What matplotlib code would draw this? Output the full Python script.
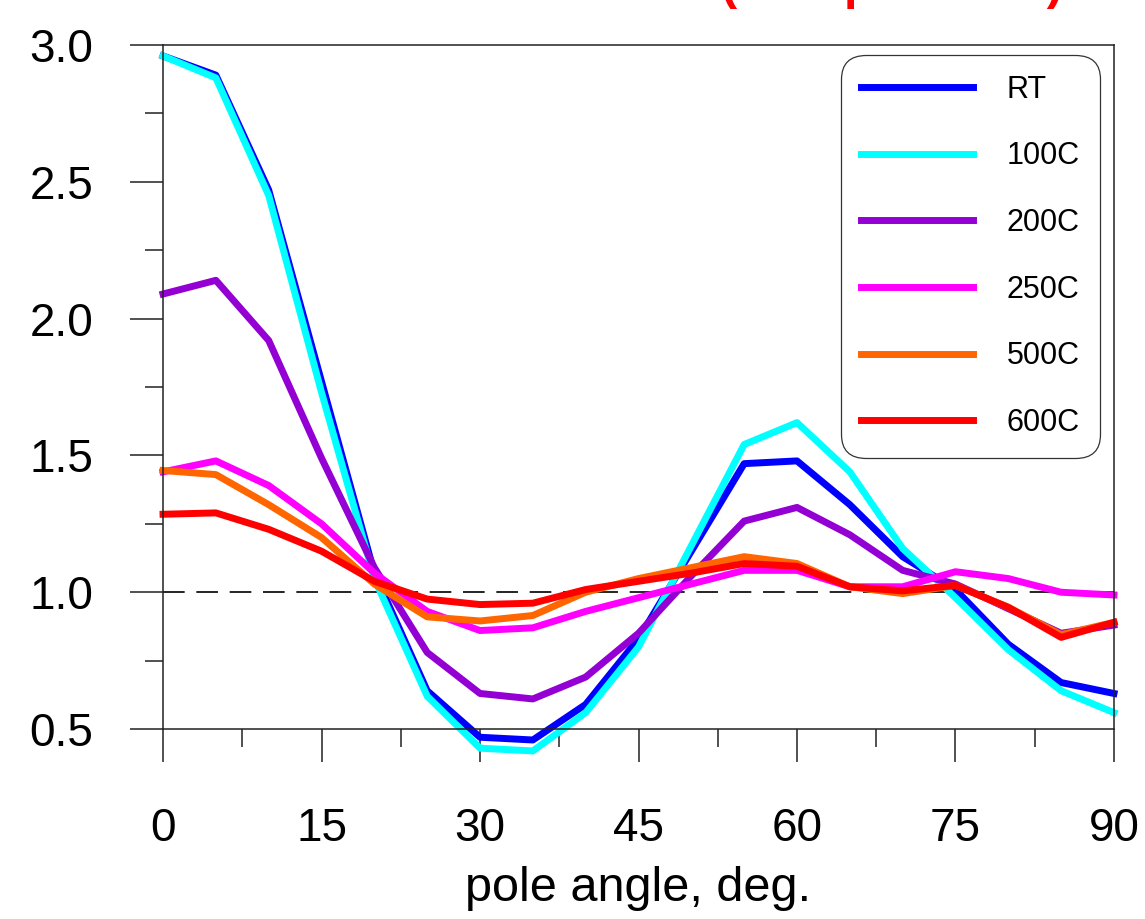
import matplotlib
matplotlib.use("Agg")
import matplotlib.pyplot as plt
from matplotlib.ticker import MultipleLocator, FormatStrFormatter

# pole angle, deg.
angles = [0, 5, 10, 15, 20, 25, 30, 35, 40, 45, 50, 55, 60, 65, 70, 75, 80, 85, 90]

rt = [2.96, 2.89, 2.47, 1.77, 1.07, 0.64, 0.47, 0.46, 0.59, 0.83,
      1.15, 1.47, 1.48, 1.32, 1.13, 1.01, 0.81, 0.67, 0.63]
t100 = [2.96, 2.88, 2.45, 1.73, 1.05, 0.62, 0.43, 0.42, 0.56, 0.80,
        1.17, 1.54, 1.62, 1.44, 1.16, 0.98, 0.79, 0.64, 0.56]
t200 = [2.09, 2.14, 1.92, 1.49, 1.09, 0.78, 0.63, 0.61, 0.69, 0.85,
        1.06, 1.26, 1.31, 1.21, 1.08, 1.03, 0.94, 0.85, 0.88]
t250 = [1.44, 1.48, 1.39, 1.25, 1.07, 0.93, 0.86, 0.87, 0.93, 0.98,
        1.03, 1.08, 1.08, 1.02, 1.02, 1.075, 1.05, 1.00, 0.99]
t500 = [1.445, 1.43, 1.32, 1.20, 1.03, 0.91, 0.895, 0.915, 1.00, 1.05,
        1.09, 1.13, 1.105, 1.02, 0.995, 1.025, 0.945, 0.845, 0.89]
t600 = [1.285, 1.29, 1.23, 1.15, 1.04, 0.975, 0.955, 0.96, 1.01, 1.04,
        1.07, 1.105, 1.095, 1.02, 1.005, 1.025, 0.945, 0.835, 0.89]

labels = ["RT", "100C", "200C", "250C", "500C", "600C"]
colors = ["#0000ff", "#00ffff", "#9400d3", "#ff00ff", "#ff6600", "#ff0000"]

_AXIS_COLOR = "#222222"
_FONT_SIZE = 33


def _main():
    plt.rcParams["font.family"] = ["Liberation Sans", "DejaVu Sans"]

    fig = plt.figure(figsize=(11.45, 9.19), dpi=100)
    ax = fig.add_axes([0.1424, 0.2067, 0.8305, 0.7443])

    ax.axhline(1.0, color="black", lw=1.2, dashes=(13, 7), zorder=1)
    series = [rt, t100, t200, t250, t500, t600]
    for values, label, color in zip(series, labels, colors):
        ax.plot(angles, values, color=color, lw=5, label=label, zorder=2,
                clip_on=False)

    ax.set_xlim(0, 90)
    ax.set_ylim(0.5, 3.0)
    ax.xaxis.set_major_locator(MultipleLocator(15))
    ax.xaxis.set_minor_locator(MultipleLocator(7.5))
    ax.yaxis.set_major_locator(MultipleLocator(0.5))
    ax.yaxis.set_minor_locator(MultipleLocator(0.25))
    ax.yaxis.set_major_formatter(FormatStrFormatter("%.1f"))

    ax.tick_params(which="major", direction="out", length=24, width=1.1,
                   color=_AXIS_COLOR, labelsize=_FONT_SIZE)
    ax.tick_params(axis="x", which="major", pad=32)
    ax.tick_params(axis="y", which="major", pad=26)
    ax.tick_params(which="minor", direction="out", length=13, width=1.1,
                   color=_AXIS_COLOR)
    for spine in ax.spines.values():
        spine.set_color(_AXIS_COLOR)
        spine.set_linewidth(1.1)

    ax.set_xlabel("pole angle, deg.", fontsize=35, labelpad=11)

    leg = ax.legend(loc="upper right", bbox_to_anchor=(0.985, 0.986),
                    borderaxespad=0, fontsize=22, handlelength=3.65,
                    handletextpad=1.1, labelspacing=1.2, borderpad=0.66,
                    fancybox=True, framealpha=1)
    frame = leg.get_frame()
    frame.set_edgecolor("#333333")
    frame.set_linewidth(0.9)
    frame.set_boxstyle("round", pad=0, rounding_size=0.8)

    # red heading, mostly above the top edge in the reference
    fig.text(0.779, 1.0011, "(Compression)", color="red", fontsize=35,
             fontweight="bold", ha="center", va="baseline")

    fig.savefig("out.png", dpi=100)


if __name__ == "__main__":
    _main()
